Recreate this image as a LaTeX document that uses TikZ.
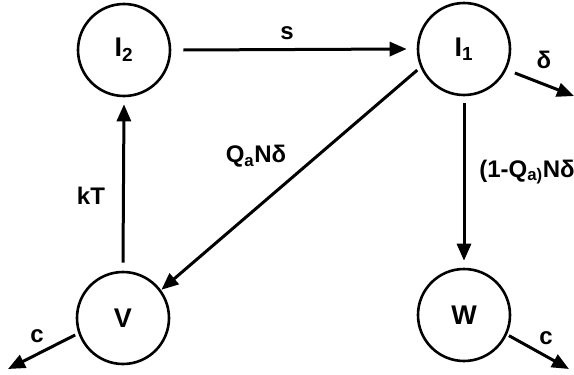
\documentclass[tikz,border=0pt]{standalone}
\usepackage{fontspec}
\setmainfont{Liberation Sans}
\usetikzlibrary{arrows.meta}
\begin{document}
\begin{tikzpicture}[x=1pt,y=-1pt,
  state/.style={circle,draw,line width=2.6pt,minimum size=92pt,inner sep=0pt,font=\fontsize{27}{29}\selectfont\bfseries},
  flow/.style={line width=3pt,-{Triangle[length=17pt,width=14pt]}},
  lab/.style={font=\fontsize{24}{26}\selectfont\bfseries}]
\useasboundingbox (0,0) rectangle (574,375);
\node[state] (I2) at (124,50) {I\textsubscript{2}};
\node[state] (I1) at (464,49) {I\textsubscript{1}};
\node[state] (V) at (123,318) {V};
\node[state] (W) at (464,315) {W};
\coordinate (dend) at (574,96);
\coordinate (cv) at (8,369);
\coordinate (cw) at (569,369);
\draw[flow] ([xshift=12pt]I2.east) -- ([xshift=-10pt]I1.west);
\node[lab] (ls) at (287,33) {s};
\draw[flow] ([shift={(8pt,-4pt)}]I1.-25) -- (dend);
\node[lab] (ld) at (544,60) {δ};
\draw[flow] ([yshift=-7pt]I1.south) -- ([yshift=7pt]W.north);
\node[lab] (l1q) at (527,172) {(1-Q\textsubscript{a)}Nδ};
\draw[flow] ([shift={(-8pt,6pt)}]I1.-145) -- ([shift={(8pt,-8pt)}]V.50);
\node[lab] (lq) at (256,156) {Q\textsubscript{a}Nδ};
\draw[flow] ([yshift=8pt]V.north) -- ([yshift=-7pt]I2.south);
\node[lab] (lkt) at (91,196) {kT};
\draw[flow] ([shift={(-5pt,3pt)}]V.205) -- (cv);
\node[lab] (lcv) at (37,336) {c};
\draw[flow] ([shift={(4pt,3pt)}]W.-30) -- (cw);
\node[lab] (lcw) at (546,338) {c};
\end{tikzpicture}
\end{document}
